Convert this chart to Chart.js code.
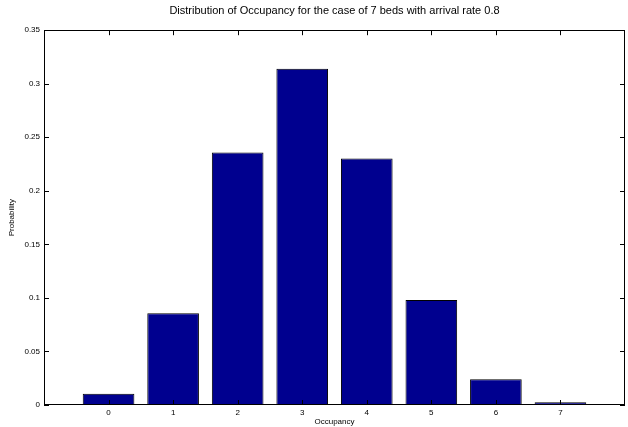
<!DOCTYPE html>
<html lang="en">
<head>
    <meta charset="UTF-8">
    <script src="https://cdn.jsdelivr.net/npm/chart.js"></script>
    <title>Distribution of Occupancy</title>
    <style>
        body {
            margin: 0;
            padding: 0;
            background-color: #ffffff;
        }

        .chart-container {
            width: 628px;
            height: 427px;
        }
    </style>
</head>
<body>
    <div class="chart-container">
        <canvas id="occupancyChart"></canvas>
    </div>

    <script>
        // Data
        const occupancy = [0, 1, 2, 3, 4, 5, 6, 7];
        const probability = [0.0105, 0.0856, 0.2359, 0.3139, 0.2303, 0.098, 0.024, 0.0025];
        const yMax = 0.35;
        const yStep = 0.05;

        Chart.defaults.font.family = "'Liberation Sans', Arial, Helvetica, sans-serif";
        Chart.defaults.color = '#000000';

        // MATLAB style box with inward tick marks on all four sides
        const boxTicks = {
            id: 'boxTicks',
            afterDraw(chart) {
                const ctx = chart.ctx;
                const a = chart.chartArea;
                const x = chart.scales.x;
                const y = chart.scales.y;
                const len = 5;
                ctx.save();
                ctx.strokeStyle = '#000000';
                ctx.lineWidth = 1;
                ctx.beginPath();
                occupancy.forEach(function (v) {
                    const px = Math.round(x.getPixelForValue(v)) + 0.5;
                    ctx.moveTo(px, a.bottom);
                    ctx.lineTo(px, a.bottom - len);
                    ctx.moveTo(px, a.top);
                    ctx.lineTo(px, a.top + len);
                });
                y.ticks.forEach(function (t) {
                    const py = Math.round(y.getPixelForValue(t.value)) + 0.5;
                    ctx.moveTo(a.left, py);
                    ctx.lineTo(a.left + len, py);
                    ctx.moveTo(a.right, py);
                    ctx.lineTo(a.right - len, py);
                });
                ctx.stroke();
                ctx.strokeRect(Math.round(a.left) + 0.5, Math.round(a.top) + 0.5,
                    Math.round(a.width) - 1, Math.round(a.height) - 1);
                ctx.restore();
            }
        };

        new Chart(document.getElementById('occupancyChart').getContext('2d'), {
            type: 'bar',
            data: {
                datasets: [{
                    label: 'Probability',
                    data: occupancy.map((o, i) => ({ x: o, y: probability[i] })),
                    backgroundColor: 'rgb(0, 0, 143)',
                    borderColor: '#000000',
                    borderWidth: 1,
                    categoryPercentage: 1,
                    barPercentage: 0.8
                }]
            },
            options: {
                responsive: true,
                maintainAspectRatio: false,
                animation: false,
                layout: {
                    padding: { left: 0, right: 2, top: 0, bottom: 0 }
                },
                plugins: {
                    legend: { display: false },
                    tooltip: { enabled: false },
                    title: {
                        display: true,
                        fullSize: false,
                        text: 'Distribution of Occupancy for the case of 7 beds with arrival rate 0.8',
                        font: { size: 11, weight: 'normal' },
                        color: '#000000',
                        padding: { top: 4, bottom: 13 }
                    }
                },
                scales: {
                    x: {
                        type: 'linear',
                        offset: false,
                        min: -1,
                        max: 8,
                        grid: { display: false, drawTicks: false, offset: false },
                        border: { display: false },
                        ticks: {
                            stepSize: 1,
                            padding: 3,
                            font: { size: 8 },
                            color: '#000000',
                            maxRotation: 0,
                            autoSkip: false,
                            callback: v => occupancy.includes(v) ? String(v) : ''
                        },
                        title: {
                            display: true,
                            text: 'Occupancy',
                            font: { size: 8 },
                            color: '#000000',
                            padding: { top: 0, bottom: 0 }
                        },
                        afterFit: s => { s.height = 22; }
                    },
                    y: {
                        min: 0,
                        max: yMax,
                        grid: { display: false, drawTicks: false },
                        border: { display: false },
                        ticks: {
                            stepSize: yStep,
                            padding: 4,
                            font: { size: 8 },
                            color: '#000000',
                            callback: v => String(parseFloat(v.toFixed(2)))
                        },
                        title: {
                            display: true,
                            text: 'Probability',
                            font: { size: 8 },
                            color: '#000000',
                            padding: { top: 7, bottom: 0 }
                        },
                        afterFit: s => { s.width = 44; }
                    }
                }
            },
            plugins: [boxTicks]
        });
    </script>
</body>
</html>
